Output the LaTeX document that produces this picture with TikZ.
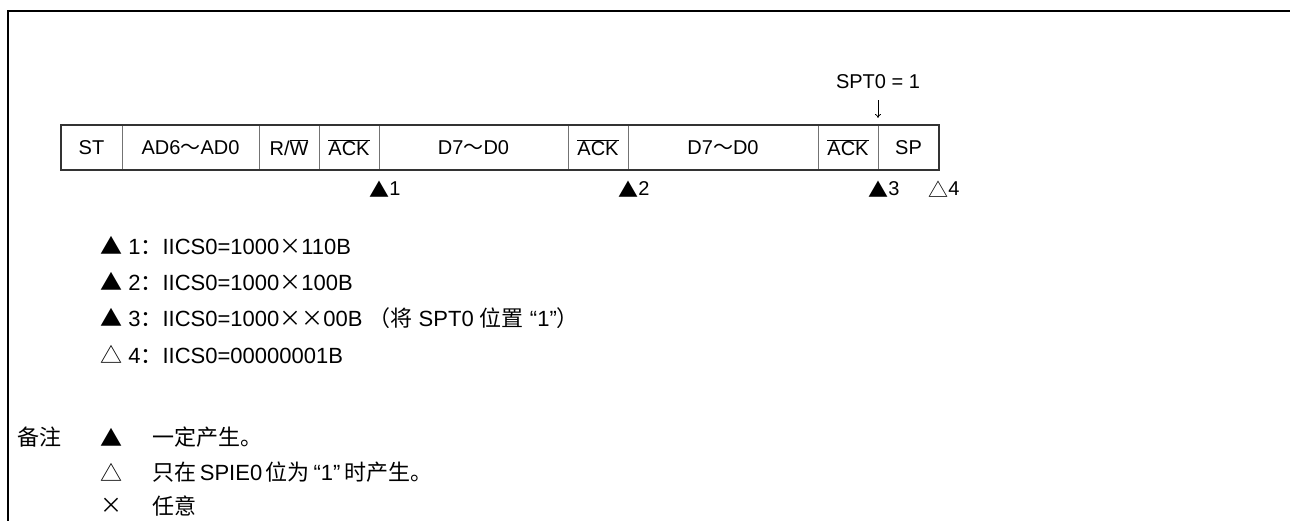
\documentclass[tikz,border=0pt]{standalone}
\usepackage{fontspec}
\usetikzlibrary{arrows.meta}
\setmainfont{Liberation Sans}
\newfontfamily\cjk{Noto Sans CJK SC}
\newcommand\zh[1]{{\cjk #1}}
\newcommand\ovl[1]{$\overline{\mbox{#1}}$}
\begin{document}
\begin{tikzpicture}[x=1pt,y=-1pt,
  font=\fontsize{20}{24}\selectfont,
  field/.style={draw=black!55, line width=0.9pt, minimum height=45, inner sep=0, outer sep=0, anchor=west},
  marktxt/.style={inner sep=0},
  legtxt/.style={anchor=west, inner sep=0, font=\fontsize{22}{26}\selectfont}]
\useasboundingbox (0,0) rectangle (1290,520);
\draw[line width=2.5pt] (8,521) -- (8,11) -- (1291,11);
% field row
\node[field, minimum width=61]  (st)  at (61,147.5)  {ST};
\node[field, minimum width=137] (ad)  at (st.east)   {AD6\zh{～}AD0};
\node[field, minimum width=60]  (rw)  at (ad.east)   {R/\ovl{W}};
\node[field, minimum width=60]  (ack1) at (rw.east)  {\ovl{ACK}};
\node[field, minimum width=189] (d1)  at (ack1.east) {D7\zh{～}D0};
\node[field, minimum width=60]  (ack2) at (d1.east)  {\ovl{ACK}};
\node[field, minimum width=190] (d2)  at (ack2.east) {D7\zh{～}D0};
\node[field, minimum width=60]  (ack3) at (d2.east)  {\ovl{ACK}};
\node[field, minimum width=61]  (sp)  at (ack3.east) {SP};
\draw[line width=2.5pt, black!80] (st.north west) rectangle (sp.south east);
% SPT0 annotation
\node (spt) at (878,82) {SPT0 = 1};
\coordinate (sptend) at (878,118);
\draw[-{To[length=4pt,width=6pt]}, line width=0.8pt] (878,100) -- (sptend);
% markers
\node[marktxt] (t1) at (379,189) {\zh{▲}};
\node[marktxt, anchor=west] (n1) at (t1.east) {1};
\node[marktxt] (t2) at (628,189) {\zh{▲}};
\node[marktxt, anchor=west] (n2) at (t2.east) {2};
\node[marktxt] (t3) at (878,189) {\zh{▲}};
\node[marktxt, anchor=west] (n3) at (t3.east) {3};
\node[marktxt] (t4) at (938,189) {\zh{△}};
\node[marktxt, anchor=west] (n4) at (t4.east) {4};
% legend lines
\node[legtxt] (l1) at (100,246) {\zh{▲} 1\zh{：}IICS0=1000\zh{×}110B};
\node[legtxt] (l2) at (100,282) {\zh{▲} 2\zh{：}IICS0=1000\zh{×}100B};
\node[legtxt] (l3) at (100,318.5) {\zh{▲} 3\zh{：}IICS0=1000\zh{××}00B \zh{（将} SPT0 \zh{位置} “1”\zh{）}};
\node[legtxt] (l4) at (100,355) {\zh{△} 4\zh{：}IICS0=00000001B};
% notes
\node[legtxt] (bz) at (17,437) {\zh{备注}};
\node[legtxt] (s1) at (100,437) {\zh{▲}};
\node[legtxt] (e1) at (152,437) {\zh{一定产生。}};
\node[legtxt] (s2) at (100,472) {\zh{△}};
\node[legtxt] (e2) at (152,472) {\zh{只在}\,SPIE0\,\zh{位为}\,“1”\,\zh{时产生。}};
\node[legtxt] (s3) at (100,506) {\zh{×}};
\node[legtxt] (e3) at (152,506) {\zh{任意}};
\end{tikzpicture}
\end{document}
